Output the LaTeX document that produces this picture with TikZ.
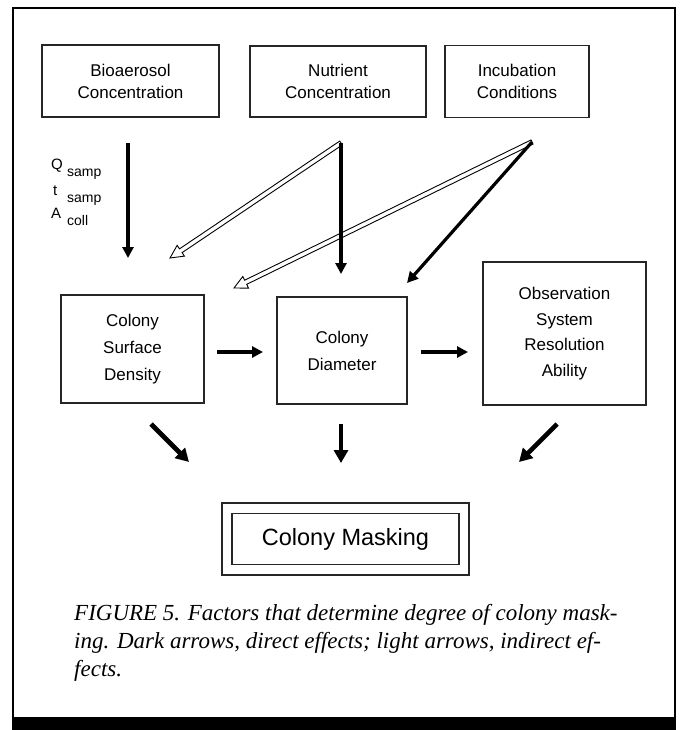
\documentclass[tikz,border=0pt]{standalone}
\usepackage{fontspec}
\setmainfont{Liberation Serif}
\newfontfamily\sansf{Liberation Sans}
\usetikzlibrary{arrows.meta,calc}
\newcommand\hollowarr[2]{%
  \coordinate (hh) at ($(#2)!13pt!(#1)$);
  \draw[fill=white, line width=0.9pt, line join=miter]
    ($(#1)!2.3pt!90:(#2)$) -- ($(hh)!2.3pt!-90:(#1)$) -- ($(hh)!6.5pt!-90:(#1)$) -- (#2)
    -- ($(hh)!6.5pt!90:(#1)$) -- ($(hh)!2.3pt!90:(#1)$) -- ($(#1)!2.3pt!-90:(#2)$) -- cycle;
}
\begin{document}
\begin{tikzpicture}[x=1pt,y=-1pt,
  box/.style={draw=black!85, line width=1.1pt, inner sep=0pt, align=center},
  toptext/.style={font=\sansf\fontsize{17}{22}\selectfont},
  midtext/.style={font=\sansf\fontsize{17}{27}\selectfont},
  obstext/.style={font=\sansf\fontsize{17}{25.5}\selectfont},
  lbl/.style={font=\sansf\fontsize{14}{14}\selectfont, anchor=base west, inner sep=0pt},
  dark/.style={line width=3.2pt, -{Triangle[length=11pt,width=11pt]}},
  darkb/.style={line width=4.6pt, -{Triangle[length=13pt,width=14pt]}},
  captxt/.style={font=\itshape\fontsize{23}{23}\selectfont, anchor=base west, inner sep=0pt}
]
\useasboundingbox (0,0) rectangle (680,730);
\fill[white] (0,0) rectangle (680,730);

% frame
\draw[line width=2pt] (12.5,718) -- (12.5,8) -- (675,8) -- (675,718);
\fill (11.5,717) rectangle (676,730);

% top boxes
\node[box, toptext, minimum width=177pt, minimum height=72pt] (bio) at (130.5,81) {Bioaerosol\\Concentration};
\node[box, toptext, minimum width=176pt, minimum height=71pt] (nut) at (338,81.5) {Nutrient\\Concentration};
\node[box, toptext, minimum width=144pt, minimum height=72pt] (inc) at (517,81.5) {Incubation\\Conditions};

% middle boxes
\node[box, midtext, minimum width=143pt, minimum height=108pt] (csd) at (132.5,349) {Colony\\Surface\\Density};
\node[box, midtext, minimum width=130pt, minimum height=107pt] (cd) at (342,350.5) {Colony\\Diameter};
\node[box, obstext, minimum width=163pt, minimum height=143pt] (obs) at (564.5,333.5) {Observation\\System\\Resolution\\Ability};

% masking
\node[box, minimum width=247pt, minimum height=72pt] (mo) at (345.5,539) {};
\node[box, font=\sansf\fontsize{23.5}{23.5}\selectfont, minimum width=227pt, minimum height=51pt] (mi) at (mo.center) {Colony Masking};

% labels
\node[lbl, font=\sansf\fontsize{15}{15}\selectfont] (q) at (51,170) {Q};
\node[lbl] (qs) at (67,177) {samp};
\node[lbl, font=\sansf\fontsize{15}{15}\selectfont] (t) at (53,196) {t};
\node[lbl] (ts) at (67,202) {samp};
\node[lbl, font=\sansf\fontsize{15}{15}\selectfont] (a) at (51,218) {A};
\node[lbl] (as) at (67,225) {coll};

% arrow coordinates
\coordinate (bioS) at (128,143);
\coordinate (bioE) at (128,258);
\coordinate (nutS) at (341,143);
\coordinate (nutE) at (341,274);
\coordinate (nutL) at (170,258);
\coordinate (incS) at (532,142);
\coordinate (incE) at (407,283);
\coordinate (incL) at (234,288);
\coordinate (h1S) at (217,352);
\coordinate (h1E) at (263,352);
\coordinate (h2S) at (421,352);
\coordinate (h2E) at (468,352);
\coordinate (b1S) at (151,424);
\coordinate (b1E) at (189,462);
\coordinate (b2S) at (341,424);
\coordinate (b2E) at (341,463);
\coordinate (b3S) at (557,424);
\coordinate (b3E) at (519,462);

% light (indirect) arrows
\hollowarr{nutS}{nutL}
\hollowarr{incS}{incL}

% dark (direct) arrows
\draw[dark] (bioS) -- (bioE);
\draw[dark] (nutS) -- (nutE);
\draw[dark] (incS) -- (incE);
\draw[dark] (h1S) -- (h1E);
\draw[dark] (h2S) -- (h2E);
\draw[darkb] (b1S) -- (b1E);
\draw[darkb] (b2S) -- (b2E);
\draw[darkb] (b3S) -- (b3E);

% caption
\node[captxt] (c1) at (74,620) {FIGURE 5. Factors that determine degree of colony mask-};
\node[captxt] (c2) at (74,648) {ing. Dark arrows, direct effects; light arrows, indirect ef-};
\node[captxt] (c3) at (74,676) {fects.};
\end{tikzpicture}
\end{document}
